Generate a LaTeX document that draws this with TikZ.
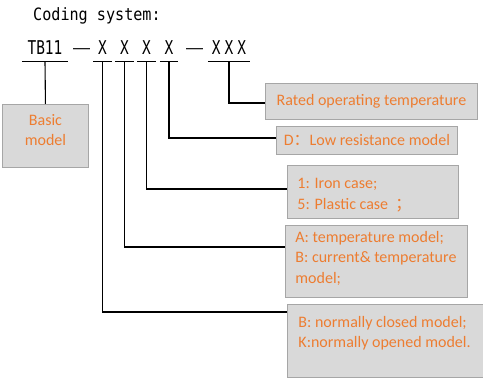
\documentclass[tikz,border=0pt]{standalone}
\usepackage{fontspec}
\setmainfont{Carlito}
\newfontfamily\cjkfont{Noto Sans CJK SC}
\newfontfamily\titlefont[FakeStretch=0.89]{DejaVu Sans Mono}
\newfontfamily\codefont[FakeStretch=0.76]{DejaVu Sans Mono}
\newfontfamily\dashfont{Liberation Sans}
\definecolor{boxfill}{HTML}{D9D9D9}
\definecolor{boxborder}{HTML}{A6A6A6}
\definecolor{orangetext}{HTML}{ED7D31}
% width, height, top pad, left pad, content
\newcommand{\boxtext}[5]{\begin{minipage}[c][#2][t]{#1}\vspace*{#3}\raggedright\leftskip=#4\relax\noindent\strut#5\end{minipage}}
\newcommand{\boxtextc}[4]{\begin{minipage}[c][#2][t]{#1}\vspace*{#3}\centering\noindent\strut#4\end{minipage}}
\tikzset{
  conn/.style={draw=black, line width=1.1pt},
  codepart/.style={font=\codefont\fontsize{19}{22}\selectfont, inner ysep=6pt, inner xsep=0pt, text depth=0pt, anchor=base},
  dashnode/.style={font=\dashfont\fontsize{17}{20}\selectfont, inner sep=0pt, anchor=center},
  codebox/.style={draw=boxborder, line width=0.9pt, fill=boxfill, inner sep=0pt, text=orangetext, anchor=north west, font=\fontsize{16}{20.5}\selectfont},
  onebox/.style={codebox, minimum width=#1, align=center}
}
\begin{document}
\begin{tikzpicture}[x=1pt,y=-1pt]
\useasboundingbox[fill=white] (0,0) rectangle (483,379);
\node[font=\titlefont\fontsize{17}{20}\selectfont, inner sep=0pt, anchor=base west] (title) at (33,21) {Coding system:};
% code line
\node[codepart, minimum width=46pt] (tb) at (45,55) {TB11};
\node[dashnode] (d1) at (81.5,51) {—};
\node[codepart, minimum width=18pt] (x1) at (102.5,55) {X};
\node[codepart, minimum width=18pt] (x2) at (124.5,55) {X};
\node[codepart, minimum width=18pt] (x3) at (146.5,55) {X};
\node[codepart, minimum width=18pt] (x4) at (169,55) {X};
\node[dashnode] (d2) at (194.5,51) {—};
\node[codepart, minimum width=42pt] (xxx) at (229,55) {X\kern4pt X\kern4pt X};
\foreach \n in {tb,x1,x2,x3,x4,xxx} \draw[conn] (\n.south west) -- (\n.south east);
% boxes
\node[codebox] (basic) at (2,104) {\boxtextc{86pt}{63pt}{6.6pt}{Basic\\model}};
\node[codebox, minimum width=212pt, minimum height=36pt] (rated) at (265,83) {Rated operating temperature};
\node[codebox, minimum width=181pt, minimum height=28pt] (lowres) at (276,126) {D{\cjkfont ：}Low resistance model};
\node[codebox] (iron) at (287,165) {\boxtext{171pt}{53pt}{9pt}{10pt}{1: Iron case;\\5: Plastic case\ \ {\cjkfont ；}}};
\node[codebox] (tmodel) at (285,225) {\boxtext{182pt}{72pt}{2.7pt}{10pt}{A: temperature model;\\B: current\& temperature\\model;}};
\node[codebox] (nc) at (287,304) {\boxtext{198pt}{73pt}{8.6pt}{11pt}{B: normally closed model;\\K:normally opened model.}};
% connectors
\draw[conn] (tb.south) -- (basic.north);
\draw[conn] (xxx.south) |- ([yshift=-20pt]rated.north west);
\draw[conn] (x4.south) |- ([yshift=-12pt]lowres.north west);
\draw[conn] (x3.south) |- ([yshift=-24pt]iron.north west);
\draw[conn] (x2.south) |- ([yshift=-22pt]tmodel.north west);
\draw[conn] (x1.south) |- ([yshift=-8pt]nc.north west);
\end{tikzpicture}
\end{document}
